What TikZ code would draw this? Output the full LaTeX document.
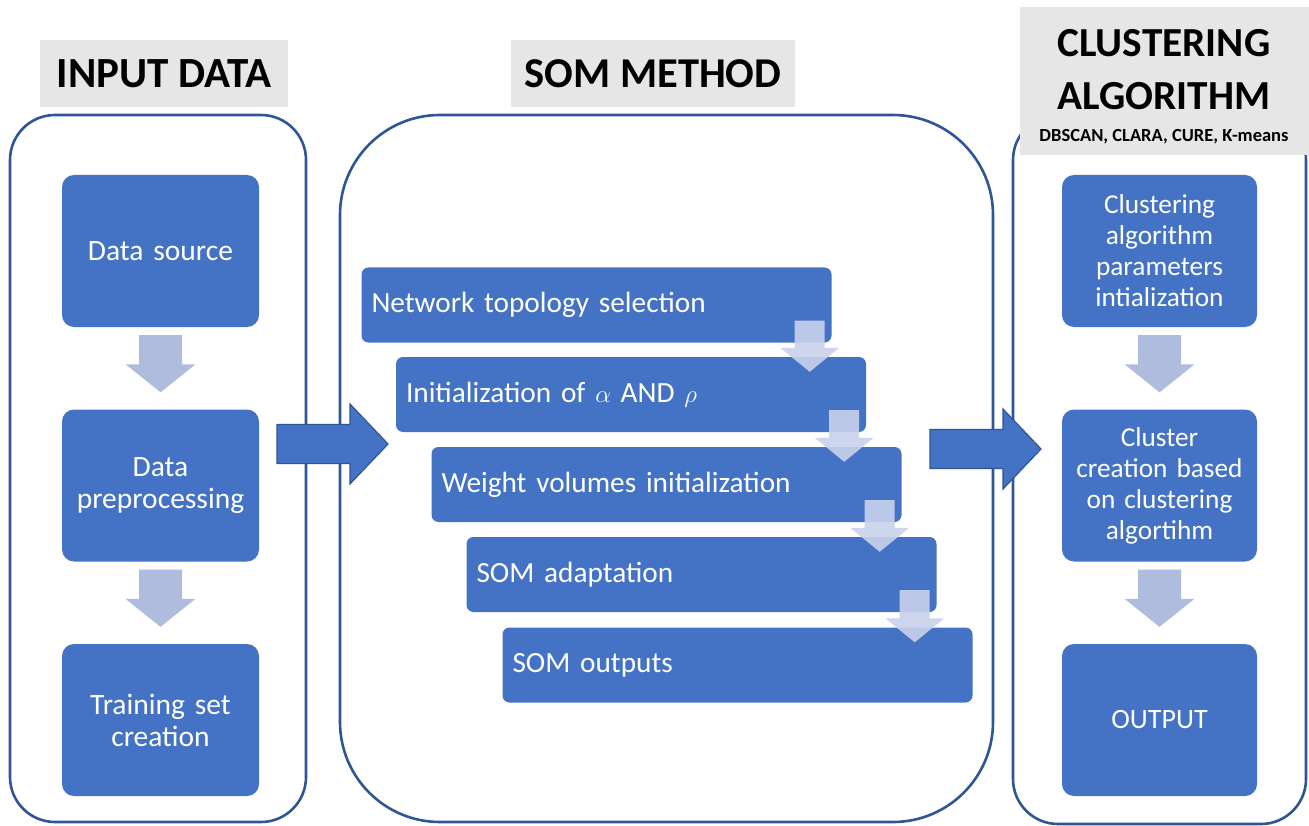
\documentclass[tikz,border=0pt]{standalone}
\usepackage{fontspec}
\setmainfont{Carlito}
\usetikzlibrary{calc}

\definecolor{boxblue}{HTML}{4472C4}
\definecolor{edgeblue}{HTML}{2F5597}
\definecolor{headgray}{HTML}{E6E6E6}
\definecolor{flowblue}{HTML}{AFBCDE}
\definecolor{stepblue}{HTML}{C9D2EC}

% vertical block arrow between two points: shaft top at #1, tip at #2
\newcommand{\downblock}[2]{%
  \fill[flowblue] let \p1=#1, \p2=#2 in
    (\x1-21.5pt,\y1) -- (\x1+21.5pt,\y1) -- (\x1+21.5pt,\y2+28pt) -- (\x1+35pt,\y2+28pt)
    -- (\x1,\y2) -- (\x1-35pt,\y2+28pt) -- (\x1-21.5pt,\y2+28pt) -- cycle;}

% small translucent step arrow inside the SOM column
\newcommand{\stepblock}[2]{%
  \fill[stepblue, fill opacity=0.9] let \p1=#1, \p2=#2 in
    (\x1-15pt,\y1) -- (\x1+15pt,\y1) -- (\x1+15pt,\y2+24pt) -- (\x1+29.5pt,\y2+24pt)
    -- (\x1,\y2) -- (\x1-29.5pt,\y2+24pt) -- (\x1-15pt,\y2+24pt) -- cycle;}

% horizontal block arrow between two points
\newcommand{\rightblock}[2]{%
  \filldraw[fill=boxblue, draw=edgeblue, line width=1.2pt, line join=miter] let \p1=#1, \p2=#2 in
    (\x1,\y1+19.5pt) -- (\x2-38pt,\y1+19.5pt) -- (\x2-38pt,\y1+40pt) -- (\x2,\y1)
    -- (\x2-38pt,\y1-40pt) -- (\x2-38pt,\y1-19.5pt) -- (\x1,\y1-19.5pt) -- cycle;}

\begin{document}
\begin{tikzpicture}[x=1pt,y=-1pt,
  panel/.style={draw=edgeblue, line width=2.6pt, rounded corners=#1},
  header/.style={fill=headgray, inner sep=0pt},
  headtext/.style={font=\fontsize{42.5}{50}\selectfont\bfseries, text=black, inner sep=0pt},
  bluebox/.style={fill=boxblue, rounded corners=12pt, text=white, inner sep=0pt, align=center},
  colbox/.style={bluebox, minimum width=197pt, minimum height=152pt, text width=190pt,
    font=\fontsize{29.5}{32}\selectfont},
  rcolbox/.style={bluebox, minimum width=195pt, minimum height=152pt, text width=190pt,
    font=\fontsize{27.3}{31}\selectfont},
  stepbox/.style={fill=boxblue, rounded corners=7pt, text=white, inner xsep=10pt, inner ysep=0pt,
    minimum width=470pt, minimum height=75pt, text width=450pt, align=left,
    font=\fontsize{29.3}{34}\selectfont}]

\useasboundingbox[fill=white] (0,0) rectangle (1309,826);

% column frames
\draw[panel=45pt] (10,115) rectangle (306,822);
\draw[panel=100pt] (340,115) rectangle (993,822);
\draw[panel=45pt] (1013,115) rectangle (1306,824);

% column headers
\node[header, minimum width=248pt, minimum height=67pt] (h1) at (164,73.5) {};
\node[headtext, font=\fontsize{43}{50}\selectfont\bfseries] at (h1) {INPUT DATA};
\node[header, minimum width=284pt, minimum height=67pt] (h2) at (653,73.5) {};
\node[headtext] at (h2) {SOM METHOD};
\node[header, minimum width=289pt, minimum height=148pt] (h3) at (1164.5,81) {};
\node[headtext, font=\fontsize{41.3}{48}\selectfont\bfseries] at (1164,43) {CLUSTERING};
\node[headtext, font=\fontsize{41.3}{48}\selectfont\bfseries] at (1164,96) {ALGORITHM};
\node[headtext, font=\fontsize{18.5}{22}\selectfont\bfseries] at (1164,137) {DBSCAN, CLARA, CURE, K-means};

% input data column
\node[colbox] (ds)  at (160.5,251)   {Data source};
\node[colbox] (pre) at (160.5,485.5) {Data\\preprocessing};
\node[colbox] (trn) at (160.5,720)   {Training set\\creation};
\downblock{([yshift=-8pt]ds.south)}{([yshift=17pt]pre.north)}
\downblock{([yshift=-8pt]pre.south)}{([yshift=17pt]trn.north)}

% SOM steps
\node[stepbox] (s1) at (596.5,305)   {Network topology selection};
\node[stepbox] (s2) at (631,394.5)   {Initialization of $\alpha$ AND $\rho$};
\node[stepbox] (s3) at (666.5,484.5) {Weight volumes initialization};
\node[stepbox] (s4) at (701.5,574.5) {SOM adaptation};
\node[stepbox] (s5) at (737.5,665)   {SOM outputs};
\stepblock{([xshift=-22pt,yshift=22pt]s1.south east)}{([yshift=-15pt]s2.north -| s1.south east)}
\stepblock{([xshift=-22pt,yshift=22pt]s2.south east)}{([yshift=-15pt]s3.north -| s2.south east)}
\stepblock{([xshift=-22pt,yshift=22pt]s3.south east)}{([yshift=-15pt]s4.north -| s3.south east)}
\stepblock{([xshift=-22pt,yshift=22pt]s4.south east)}{([yshift=-15pt]s5.north -| s4.south east)}

% clustering column
\node[rcolbox] (cp)  at (1159.5,251)   {Clustering\\algorithm\\parameters\\intialization};
\node[rcolbox] (cc)  at (1159.5,485.5) {Cluster\\creation based\\on clustering\\algortihm};
\node[rcolbox, font=\fontsize{28}{31}\selectfont] (out) at (1159.5,720) {OUTPUT};
\downblock{([yshift=-8pt]cp.south)}{([yshift=17pt]cc.north)}
\downblock{([yshift=-8pt]cc.south)}{([yshift=17pt]out.north)}

% links between columns
\coordinate (a1s) at (277,444);
\coordinate (a1e) at (388,444);
\coordinate (a2s) at (930,449);
\coordinate (a2e) at (1041,449);
\rightblock{(a1s)}{(a1e)}
\rightblock{(a2s)}{(a2e)}
\end{tikzpicture}
\end{document}
